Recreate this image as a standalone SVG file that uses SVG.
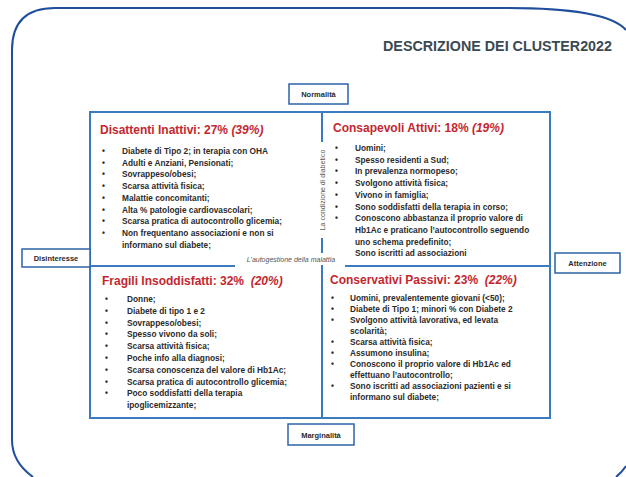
<svg xmlns="http://www.w3.org/2000/svg" width="626" height="477" viewBox="0 0 626 477">
<style>
.frame{fill:none;stroke:#1f4f9c;stroke-width:2}
.ax{fill:none;stroke:#3c7bbd;stroke-width:2}
.lbox{fill:#fff;stroke:#2d64a8;stroke-width:1.5}
.lbl{font-family:"Liberation Sans",Arial,sans-serif;font-size:7.5px;font-weight:bold;fill:#2a2a2a;text-anchor:middle}
.ttl{font-family:"Liberation Sans",Arial,sans-serif;font-size:12px;font-weight:bold;fill:#c3272f}
.it{font-style:italic}
.b{font-family:"Liberation Sans",Arial,sans-serif;font-size:8.3px;font-weight:bold;fill:#2b2b2b}
.note{font-family:"Liberation Sans",Arial,sans-serif;font-size:7px;font-style:italic;fill:#555}
.head{font-family:"Liberation Sans",Arial,sans-serif;font-size:14.5px;font-weight:bold;fill:#3a4a52}
</style>
<rect width="626" height="477" fill="#fff"/>
<g id="frame">
<path class="frame" d="M33 477 Q12 462 12 440 L12 50 Q12 8 55 8 L505 8 C570 8 612 14 626 30"/>
<path class="frame" d="M616 477 Q622 472 626 466"/>
</g>
<text id="title" class="head" x="383" y="51" textLength="229" lengthAdjust="spacingAndGlyphs">DESCRIZIONE DEI CLUSTER2022</text>
<g id="connectors">
<rect class="ax" x="90" y="112" width="460" height="306"/>
<line class="ax" x1="90" y1="266" x2="235" y2="266"/>
<line class="ax" x1="345" y1="266" x2="550" y2="266"/>
<line class="ax" x1="322" y1="112" x2="322" y2="142"/>
<line class="ax" x1="322" y1="238" x2="322" y2="253"/>
<line class="ax" x1="322" y1="265" x2="322" y2="418"/>
<text class="note" x="291" y="262" text-anchor="middle">L’autogestione della malattia</text>
<text class="note" transform="translate(324.5 190) rotate(-90)" text-anchor="middle" style="font-style:normal">La condizione di diabetico</text>
</g>
<g id="normalita">
<rect class="lbox" x="289" y="84" width="59" height="20"/>
<text class="lbl" x="318.5" y="97">Normalità</text>
</g>
<g id="disinteresse">
<rect class="lbox" x="22" y="249" width="68" height="18"/>
<text class="lbl" x="56" y="261">Disinteresse</text>
</g>
<g id="attenzione">
<rect class="lbox" x="555" y="253" width="65" height="20"/>
<text class="lbl" x="587.5" y="266">Attenzione</text>
</g>
<g id="marginalita">
<rect class="lbox" x="288" y="424" width="66" height="21"/>
<text class="lbl" x="321" y="437.5">Marginalità</text>
</g>
<g id="disattenti">
<text class="ttl" x="100" y="134">Disattenti Inattivi: 27% <tspan class="it">(39%)</tspan></text>
<g class="b">
<text x="102" y="154">•</text><text x="122" y="154">Diabete di Tipo 2; in terapia con OHA</text>
<text x="102" y="165.7">•</text><text x="122" y="165.7">Adulti e Anziani, Pensionati;</text>
<text x="102" y="177.4">•</text><text x="122" y="177.4">Sovrappeso/obesi;</text>
<text x="102" y="189.1">•</text><text x="122" y="189.1">Scarsa attività fisica;</text>
<text x="102" y="200.8">•</text><text x="122" y="200.8">Malattie concomitanti;</text>
<text x="102" y="212.5">•</text><text x="122" y="212.5">Alta % patologie cardiovascolari;</text>
<text x="102" y="224.2">•</text><text x="122" y="224.2">Scarsa pratica di autocontrollo glicemia;</text>
<text x="102" y="235.9">•</text><text x="122" y="235.9">Non frequentano associazioni e non si</text>
<text x="122" y="247.6">informano sul diabete;</text>
</g>
</g>
<g id="consapevoli">
<text class="ttl" x="333" y="132">Consapevoli Attivi: 18% <tspan class="it">(19%)</tspan></text>
<g class="b">
<text x="335" y="151">•</text><text x="355" y="151">Uomini;</text>
<text x="335" y="162.7">•</text><text x="355" y="162.7">Spesso residenti a Sud;</text>
<text x="335" y="174.4">•</text><text x="355" y="174.4">In prevalenza normopeso;</text>
<text x="335" y="186.1">•</text><text x="355" y="186.1">Svolgono attività fisica;</text>
<text x="335" y="197.8">•</text><text x="355" y="197.8">Vivono in famiglia;</text>
<text x="335" y="209.5">•</text><text x="355" y="209.5">Sono soddisfatti della terapia in corso;</text>
<text x="335" y="221.2">•</text><text x="355" y="221.2">Conoscono abbastanza il proprio valore di</text>
<text x="355" y="232.9">Hb1Ac e praticano l’autocontrollo seguendo</text>
<text x="355" y="244.6">uno schema predefinito;</text>
<text x="355" y="256.3">Sono iscritti ad associazioni</text>
</g>
</g>
<g id="fragili">
<text class="ttl" x="102" y="285" xml:space="preserve">Fragili Insoddisfatti: 32%  <tspan class="it">(20%)</tspan></text>
<g class="b">
<text x="105" y="302">•</text><text x="127" y="302">Donne;</text>
<text x="105" y="313.8">•</text><text x="127" y="313.8">Diabete di tipo 1 e 2</text>
<text x="105" y="325.6">•</text><text x="127" y="325.6">Sovrappeso/obesi;</text>
<text x="105" y="337.4">•</text><text x="127" y="337.4">Spesso vivono da soli;</text>
<text x="105" y="349.2">•</text><text x="127" y="349.2">Scarsa attività fisica;</text>
<text x="105" y="361">•</text><text x="127" y="361">Poche info alla diagnosi;</text>
<text x="105" y="372.8">•</text><text x="127" y="372.8">Scarsa conoscenza del valore di Hb1Ac;</text>
<text x="105" y="384.6">•</text><text x="127" y="384.6">Scarsa pratica di autocontrollo glicemia;</text>
<text x="105" y="396.4">•</text><text x="127" y="396.4">Poco soddisfatti della terapia</text>
<text x="127" y="408.2">ipoglicemizzante;</text>
</g>
</g>
<g id="conservativi">
<text class="ttl" x="330" y="284" xml:space="preserve">Conservativi Passivi: 23%  <tspan class="it">(22%)</tspan></text>
<g class="b">
<text x="331" y="301">•</text><text x="350" y="301">Uomini, prevalentemente giovani (&lt;50);</text>
<text x="331" y="312">•</text><text x="350" y="312">Diabete di Tipo 1; minori % con Diabete 2</text>
<text x="331" y="323">•</text><text x="350" y="323">Svolgono attività lavorativa, ed levata</text>
<text x="350" y="334">scolarità;</text>
<text x="331" y="345">•</text><text x="350" y="345">Scarsa attività fisica;</text>
<text x="331" y="356">•</text><text x="350" y="356">Assumono insulina;</text>
<text x="331" y="367">•</text><text x="350" y="367">Conoscono il proprio valore di Hb1Ac ed</text>
<text x="350" y="378">effettuano l’autocontrollo;</text>
<text x="331" y="389">•</text><text x="350" y="389">Sono iscritti ad associazioni pazienti e si</text>
<text x="350" y="400">informano sul diabete;</text>
</g>
</g>
</svg>
